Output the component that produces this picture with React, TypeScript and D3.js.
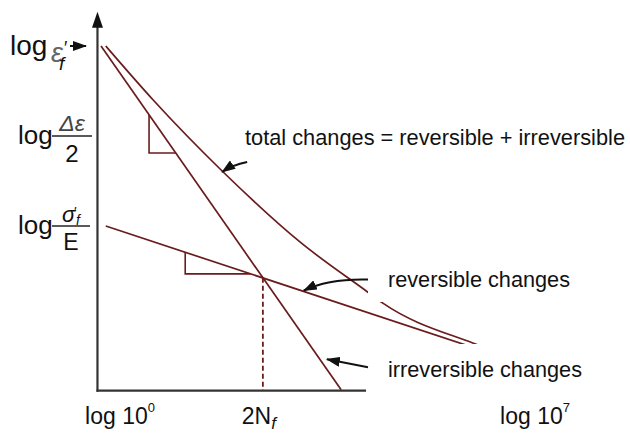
import React from "react";
import * as d3 from "d3";

// log(2N) on x, log(strain amplitude) on y
const xDomain = [0, 7];
const axisExtentX = [-0.38, 4.15];
const axisExtentY = [-3.83, 0.38];

const plasticLine = [
  { x: -0.32, y: 0 },
  { x: 3.73, y: -3.82 },
];
const elasticLine = [
  { x: -0.24, y: -2 },
  { x: 6.6, y: -3.49 },
];
const totalCurve = [
  { x: -0.24, y: 0 },
  { x: 0.56, y: -0.6 },
  { x: 1.74, y: -1.4 },
  { x: 3.04, y: -2.18 },
  { x: 4.17, y: -2.73 },
  { x: 4.44, y: -2.86 },
  { x: 5.95, y: -3.3 },
  { x: 6.6, y: -3.45 },
];

// slope triangles: [start x, end x] along each line
const plasticSlope = [0.49, 0.94];
const elasticSlope = [1.1, 2.2];

const transitionX = 2.41; // 2N_t
const xTickLabels = [
  { x: 0, base: "log 10", sup: "0" },
  { x: 7, base: "log 10", sup: "7" },
];

const lineColor = "#6a1c1c";
const axisColor = "#333";
const font = "'Liberation Sans', Arial, Helvetica, sans-serif";

export default function App() {
  const x = d3.scaleLinear().domain(xDomain).range([120, 535]);
  const y = d3.scaleLinear().domain([0, -2]).range([46, 226]);

  const line = d3
    .line<{ x: number; y: number }>()
    .x((d) => x(d.x))
    .y((d) => y(d.y));
  const curve = d3
    .line<{ x: number; y: number }>()
    .x((d) => x(d.x))
    .y((d) => y(d.y))
    .curve(d3.curveMonotoneX);

  const plastic = d3
    .scaleLinear()
    .domain(plasticLine.map((d) => d.x))
    .range(plasticLine.map((d) => d.y));
  const elastic = d3
    .scaleLinear()
    .domain(elasticLine.map((d) => d.x))
    .range(elasticLine.map((d) => d.y));

  const triangle = (f: d3.ScaleLinear<number, number>, [a, b]: number[]) =>
    `M${x(a)},${y(f(a))}V${y(f(b))}H${x(b)}`;

  const ax0 = x(axisExtentX[0]);
  const ax1 = x(axisExtentX[1]);
  const ay0 = y(axisExtentY[0]);
  const ay1 = y(axisExtentY[1]);

  const ix = x(transitionX);
  const iy = y(plastic(transitionX));

  // callout arrows anchored on the marks
  const totalTip = { x: x(1.74) - 1, y: y(-1.4) };
  const revTip = { x: x(3.1), y: y(elastic(3.1)) - 1 };
  const irrTip = { x: x(3.49), y: y(plastic(3.37)) };

  return (
    <svg
      width={630}
      height={442}
      style={{ position: "absolute", left: 0, top: 0, background: "#fff" }}
      fontFamily={font}
    >
      <defs>
        <marker
          id="head"
          markerUnits="userSpaceOnUse"
          markerWidth={14}
          markerHeight={10}
          refX={13}
          refY={5}
          orient="auto"
        >
          <path d="M0,0L14,5L0,10Z" fill="#111" />
        </marker>
      </defs>

      {/* curves */}
      <g fill="none" stroke={lineColor} strokeWidth={1.7}>
        <path d={line(plasticLine) ?? ""} />
        <path d={line(elasticLine) ?? ""} />
        <path d={curve(totalCurve) ?? ""} />
        <path d={triangle(plastic, plasticSlope)} strokeWidth={1.6} />
        <path d={triangle(elastic, elasticSlope)} strokeWidth={1.6} />
        <line x1={ix} x2={ix} y1={iy} y2={ay0} strokeDasharray="5,3" strokeWidth={1.8} />
      </g>

      {/* label backgrounds hide the line ends */}
      <rect x={368} y={255} width={262} height={47} fill="#fff" />
      <rect x={368} y={344} width={262} height={98} fill="#fff" />

      {/* axes */}
      <g stroke={axisColor} strokeWidth={2.2}>
        <line x1={ax0} x2={ax0} y1={ay0 + 1} y2={ay1 + 10} />
        <line x1={ax0 - 1} x2={ax1} y1={ay0} y2={ay0} />
      </g>
      <path d={`M${ax0},${ay1}L${ax0 - 5.5},${ay1 + 16}L${ax0 + 5.5},${ay1 + 16}Z`} fill="#111" />

      {/* y labels */}
      <g fill="#111">
        <text x={10} y={55} fontSize={28}>log</text>
        <text x={51} y={62} fontSize={27} fontStyle="italic" fill="#666">ε</text>
        <text x={64} y={54} fontSize={18}>′</text>
        <text x={59} y={70} fontSize={19} fontStyle="italic">f</text>
        <line x1={70} x2={86} y1={y(0)} y2={y(0)} stroke="#111" strokeWidth={2} markerEnd="url(#head)" />

        <text x={18} y={y(-1) + 8} fontSize={26}>log</text>
        <text x={72} y={y(-1) - 5} fontSize={23} fontStyle="italic" fill="#444" textAnchor="middle">Δε</text>
        <line x1={52} x2={92} y1={y(-1)} y2={y(-1)} stroke="#222" strokeWidth={1.5} />
        <text x={72} y={y(-1) + 26} fontSize={24} textAnchor="middle">2</text>

        <text x={18} y={y(-2) + 8} fontSize={26}>log</text>
        <text x={62} y={y(-2) - 4} fontSize={22} fontStyle="italic">σ</text>
        <text x={74} y={y(-2) - 9} fontSize={14}>′</text>
        <text x={76} y={y(-2) - 1} fontSize={14} fontStyle="italic">f</text>
        <line x1={52} x2={90} y1={y(-2)} y2={y(-2)} stroke="#222" strokeWidth={1.5} />
        <text x={71} y={y(-2) + 24} fontSize={23} textAnchor="middle">E</text>
      </g>

      {/* x labels */}
      <g fill="#111" fontSize={23}>
        {xTickLabels.map((t) => (
          <text key={t.sup} x={x(t.x)} y={424} textAnchor="middle">
            {t.base}
            <tspan fontSize={13} dy={-12}>{t.sup}</tspan>
          </text>
        ))}
        <text x={x(transitionX) - 4} y={424} textAnchor="middle">
          2N
          <tspan fontSize={17} fontStyle="italic" dy={5}>f</tspan>
        </text>
      </g>

      {/* callouts */}
      <g fill="none" stroke="#111" strokeWidth={2}>
        <path
          d={`M${totalTip.x + 25},${totalTip.y - 10}Q${totalTip.x + 10},${totalTip.y - 7} ${totalTip.x},${totalTip.y}`}
          markerEnd="url(#head)"
        />
        <path
          d={`M368,${revTip.y - 11}Q${revTip.x + 25},${revTip.y - 12} ${revTip.x},${revTip.y}`}
          markerEnd="url(#head)"
        />
        <path d={`M368,${irrTip.y + 8}L${irrTip.x},${irrTip.y}`} markerEnd="url(#head)" />
      </g>

      <g fill="#111" fontSize={22}>
        <text x={245} y={145} textLength={380} lengthAdjust="spacingAndGlyphs">
          total changes = reversible + irreversible
        </text>
        <text x={388} y={287} textLength={182} lengthAdjust="spacingAndGlyphs">
          reversible changes
        </text>
        <text x={388} y={377} textLength={194} lengthAdjust="spacingAndGlyphs">
          irreversible changes
        </text>
      </g>
    </svg>
  );
}
